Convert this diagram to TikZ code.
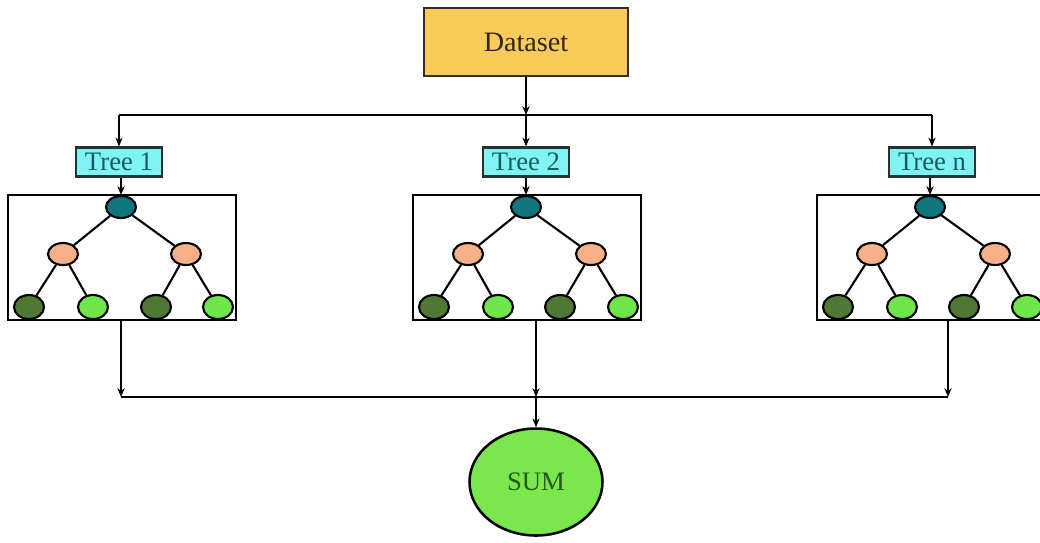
\documentclass[tikz,border=0pt]{standalone}
\usepackage{fontspec}
\setmainfont{Liberation Serif}
\usetikzlibrary{arrows.meta,shapes.geometric}

\tikzset{every picture/.style={line width=1.5pt}}
\tikzset{
  arrow/.style={-{Stealth[length=2.2mm,width=1.8mm]}},
  databox/.style={draw={rgb,255:red,58;green,44;blue,30}, line width=1.8pt, fill={rgb,255:red,249;green,204;blue,90},
    minimum width=51mm, minimum height=17mm, inner sep=0pt, text={rgb,255:red,50;green,36;blue,18}, font=\fontsize{20}{23}\selectfont},
  treelabel/.style={draw={rgb,255:red,40;green,50;blue,50}, fill={rgb,255:red,128;green,244;blue,244},
    minimum width=21.5mm, minimum height=7.25mm, inner sep=0pt, text={rgb,255:red,26;green,90;blue,96}, font=\fontsize{19}{21}\selectfont},
  panel/.style={draw, minimum width=57mm, minimum height=31.25mm, inner sep=0pt},
  rootnode/.style={ellipse, draw, fill={rgb,255:red,14;green,118;blue,124}, minimum width=7.5mm, minimum height=5.5mm, inner sep=0pt},
  splitnode/.style={ellipse, draw, fill={rgb,255:red,245;green,176;blue,138}, minimum width=7.5mm, minimum height=5.5mm, inner sep=0pt},
  darkleaf/.style={ellipse, draw, fill={rgb,255:red,78;green,120;blue,52}, minimum width=7.5mm, minimum height=6mm, inner sep=0pt},
  lightleaf/.style={ellipse, draw, fill={rgb,255:red,110;green,230;blue,74}, minimum width=7.5mm, minimum height=6mm, inner sep=0pt},
  sumnode/.style={ellipse, draw, line width=1.8pt, fill={rgb,255:red,122;green,232;blue,76}, minimum width=33.25mm, minimum height=26.75mm,
    inner sep=0pt, text={rgb,255:red,36;green,88;blue,28}, font=\fontsize{19}{22}\selectfont}
}

\begin{document}
\begin{tikzpicture}[x=0.25mm, y=-0.25mm]
    \useasboundingbox (0,0) rectangle (1040,542);
    % dataset and the three trees
    \node[databox] (data) at (526,42) {Dataset};
    \node[treelabel] (t1) at (119,162) {Tree 1};
    \node[treelabel] (t2) at (526,162) {Tree 2};
    \node[treelabel] (t3) at (932,162) {Tree n};
    \coordinate (s1) at (119,115);
    \coordinate (s2) at (526,115);
    \coordinate (s3) at (932,115);
    \draw[arrow] (data) -- (s2);
    \draw (s1) -- (s3);
    \draw[arrow] (s1) -- (t1);
    \draw[arrow] (s2) -- (t2);
    \draw[arrow] (s3) -- (t3);

    \node[panel] (p1) at (122,257.5) {};
    \node[panel] (p2) at (527,257.5) {};
    \node[panel] (p3) at (931,257.5) {};

    % tree 1
    \node[rootnode] (r1) at (121,207) {};
    \node[splitnode] (a1) at (63,254) {};
    \node[splitnode] (b1) at (186,254) {};
    \node[darkleaf] (a1l) at (29,307) {};
    \node[lightleaf] (a1r) at (93,307) {};
    \node[darkleaf] (b1l) at (156,307) {};
    \node[lightleaf] (b1r) at (218,307) {};
    \draw (r1) -- (a1);
    \draw (r1) -- (b1);
    \draw (a1) -- (a1l);
    \draw (a1) -- (a1r);
    \draw (b1) -- (b1l);
    \draw (b1) -- (b1r);
    \draw[arrow] (t1.south -| r1) -- (r1);

    % tree 2
    \node[rootnode] (r2) at (526,207) {};
    \node[splitnode] (a2) at (468,254) {};
    \node[splitnode] (b2) at (591,254) {};
    \node[darkleaf] (a2l) at (434,307) {};
    \node[lightleaf] (a2r) at (498,307) {};
    \node[darkleaf] (b2l) at (560,307) {};
    \node[lightleaf] (b2r) at (623,307) {};
    \draw (r2) -- (a2);
    \draw (r2) -- (b2);
    \draw (a2) -- (a2l);
    \draw (a2) -- (a2r);
    \draw (b2) -- (b2l);
    \draw (b2) -- (b2r);
    \draw[arrow] (t2) -- (r2);

    % tree n
    \node[rootnode] (r3) at (930,207) {};
    \node[splitnode] (a3) at (872,254) {};
    \node[splitnode] (b3) at (995,254) {};
    \node[darkleaf] (a3l) at (838,307) {};
    \node[lightleaf] (a3r) at (902,307) {};
    \node[darkleaf] (b3l) at (964,307) {};
    \node[lightleaf] (b3r) at (1027,307) {};
    \draw (r3) -- (a3);
    \draw (r3) -- (b3);
    \draw (a3) -- (a3l);
    \draw (a3) -- (a3r);
    \draw (b3) -- (b3l);
    \draw (b3) -- (b3r);
    \draw[arrow] (t3.south -| r3) -- (r3);

    % merge into the sum
    \coordinate (m1) at (121,397);
    \coordinate (m2) at (536,397);
    \coordinate (m3) at (948,397);
    \node[sumnode] (sum) at (536,482) {SUM};
    \draw[arrow] (p1.south -| m1) -- (m1);
    \draw[arrow] (p2.south -| m2) -- (m2);
    \draw[arrow] (p3.south -| m3) -- (m3);
    \draw (m1) -- (m3);
    \draw[arrow] (m2) -- (sum);
\end{tikzpicture}
\end{document}
